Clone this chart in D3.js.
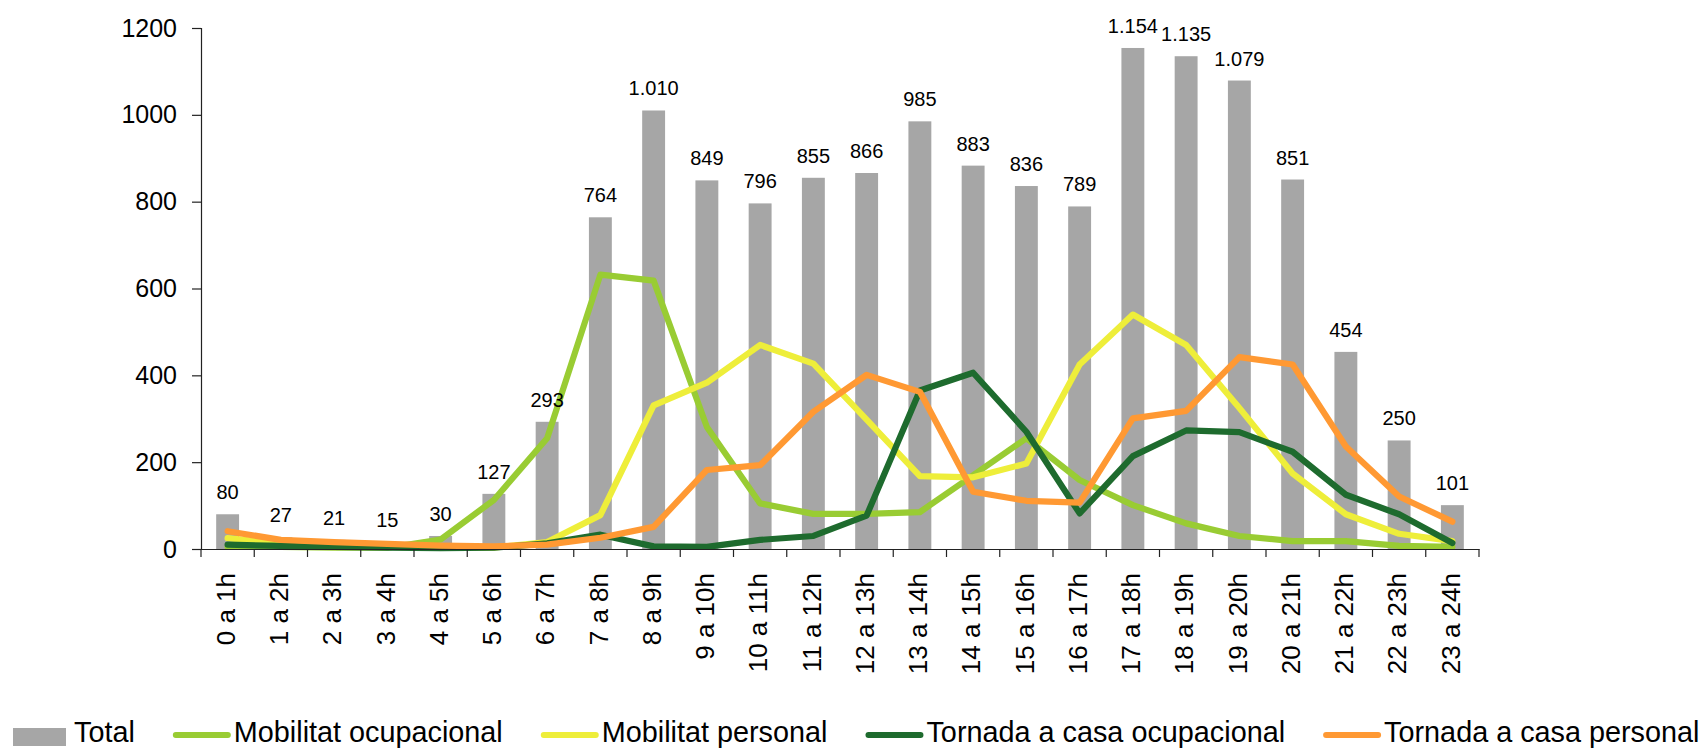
<!DOCTYPE html>
<html>
<head>
<meta charset="utf-8">
<script src="https://cdn.jsdelivr.net/npm/d3@7/dist/d3.min.js"></script>
<style>
  html, body { margin: 0; padding: 0; background: #fff; }
  svg { display: block; }
  text { font-family: "Liberation Sans", Arial, Helvetica, sans-serif; fill: #000; }
</style>
</head>
<body>
<svg id="chart" width="1701" height="749"></svg>
<script>
// Hourly trips: total per hour (bars) and by trip purpose (lines)
const hours = ["0 a 1h","1 a 2h","2 a 3h","3 a 4h","4 a 5h","5 a 6h","6 a 7h","7 a 8h",
  "8 a 9h","9 a 10h","10 a 11h","11 a 12h","12 a 13h","13 a 14h","14 a 15h","15 a 16h",
  "16 a 17h","17 a 18h","18 a 19h","19 a 20h","20 a 21h","21 a 22h","22 a 23h","23 a 24h"];

const total = [80, 27, 21, 15, 30, 127, 293, 764, 1010, 849, 796, 855, 866, 985, 883, 836,
  789, 1154, 1135, 1079, 851, 454, 250, 101];

const mobilitatOcupacional = [5, 5, 3, 3, 22, 113, 255, 632, 618, 281, 105, 81, 81, 85, 170, 255,
  159, 101, 59, 30, 18, 18, 7, 5];

const mobilitatPersonal = [25, 12, 8, 5, 3, 3, 16, 78, 331, 383, 470, 427, 298, 168, 165, 197,
  425, 540, 470, 325, 174, 80, 35, 18];

const tornadaOcupacional = [10, 7, 5, 3, 2, 3, 13, 33, 6, 5, 21, 30, 77, 365, 406, 270,
  82, 214, 273, 269, 224, 125, 80, 14];

const tornadaPersonal = [41, 21, 16, 12, 8, 6, 10, 26, 51, 182, 193, 316, 401, 362, 132, 111,
  107, 301, 318, 442, 425, 236, 121, 63];

const yTicks = [0, 200, 400, 600, 800, 1000, 1200];

const series = [
  { name: "Mobilitat ocupacional", values: mobilitatOcupacional, color: "#99CC33" },
  { name: "Mobilitat personal", values: mobilitatPersonal, color: "#EEEE3A" },
  { name: "Tornada a casa ocupacional", values: tornadaOcupacional, color: "#1E6B2E" },
  { name: "Tornada a casa personal", values: tornadaPersonal, color: "#FF9933" }
];
const barColor = "#A6A6A6";

const svg = d3.select("#chart");
const plotLeft = 201, plotRight = 1479, plotTop = 28, plotBottom = 549;

const x = d3.scaleBand().domain(hours).range([plotLeft, plotRight]).padding(0);
const cx = h => x(h) + x.bandwidth() / 2;
const barW = x.bandwidth() * 0.43;

const y = d3.scaleLinear().domain([0, 1200]).range([plotBottom, plotTop]);

// Catalan number format: "." as thousands separator
const fmt = d3.formatLocale({ decimal: ",", thousands: ".", grouping: [3], currency: ["", "€"] }).format(",d");

// Bars
svg.append("g").selectAll("rect")
  .data(hours)
  .join("rect")
  .attr("x", (h) => cx(h) - barW / 2)
  .attr("width", barW)
  .attr("y", (h, i) => y(total[i]))
  .attr("height", (h, i) => y(0) - y(total[i]))
  .attr("fill", barColor);

// Lines
const line = d3.line()
  .x((d, i) => cx(hours[i]))
  .y(d => y(d));

svg.append("g").selectAll("path")
  .data(series)
  .join("path")
  .attr("d", s => line(s.values))
  .attr("fill", "none")
  .attr("stroke", s => s.color)
  .attr("stroke-width", 6.2)
  .attr("stroke-linejoin", "round")
  .attr("stroke-linecap", "round");

// Value labels on bars
svg.append("g").selectAll("text")
  .data(hours)
  .join("text")
  .attr("x", h => cx(h))
  .attr("y", (h, i) => y(total[i]) - 15)
  .attr("text-anchor", "middle")
  .style("font-size", "20px")
  .text((h, i) => fmt(total[i]));

// Y axis
const yAxis = svg.append("g")
  .attr("transform", `translate(${plotLeft},0)`)
  .call(d3.axisLeft(y).tickValues(yTicks).tickSize(9).tickPadding(15).tickFormat(d3.format("d")));
yAxis.select(".domain").attr("stroke", "#222").attr("stroke-width", 1.2);
yAxis.selectAll(".tick line").attr("stroke", "#222").attr("stroke-width", 1.2);
yAxis.selectAll(".tick text")
  .style("font-size", "25px")
  .style("font-family", "'Liberation Sans', Arial, sans-serif")
  .attr("fill", "#000");

// X axis: baseline, ticks at category boundaries, rotated labels
const xAxis = svg.append("g")
  .attr("transform", `translate(0,${plotBottom})`)
  .call(d3.axisBottom(x).tickSize(0).tickFormat(""));
xAxis.select(".domain").attr("stroke", "#222").attr("stroke-width", 1.2);

const boundaries = hours.map(h => x(h)).concat([plotRight]);
svg.append("g").selectAll("line")
  .data(boundaries)
  .join("line")
  .attr("x1", d => d).attr("x2", d => d)
  .attr("y1", plotBottom).attr("y2", plotBottom + 8)
  .attr("stroke", "#222")
  .attr("stroke-width", 1.2);

svg.append("g").selectAll("text")
  .data(hours)
  .join("text")
  .attr("transform", h => `translate(${cx(h)},573) rotate(-90)`)
  .attr("text-anchor", "end")
  .attr("dy", "0.28em")
  .style("font-size", "26px")
  .text(h => h);

// Legend
const legend = svg.append("g");
const legendItems = [{ name: "Total", color: barColor, bar: true }].concat(series);
let lx = 13;
const ly = 742;
legendItems.forEach(item => {
  if (item.bar) {
    legend.append("rect")
      .attr("x", lx).attr("y", 728)
      .attr("width", 53).attr("height", 18)
      .attr("fill", item.color);
    lx += 61;
  } else {
    legend.append("line")
      .attr("x1", lx + 3).attr("x2", lx + 55)
      .attr("y1", 735).attr("y2", 735)
      .attr("stroke", item.color)
      .attr("stroke-width", 6)
      .attr("stroke-linecap", "round");
    lx += 61;
  }
  const t = legend.append("text")
    .attr("x", lx).attr("y", ly)
    .style("font-size", "28.8px")
    .text(item.name);
  lx += t.node().getComputedTextLength() + 38;
});
</script>
</body>
</html>
